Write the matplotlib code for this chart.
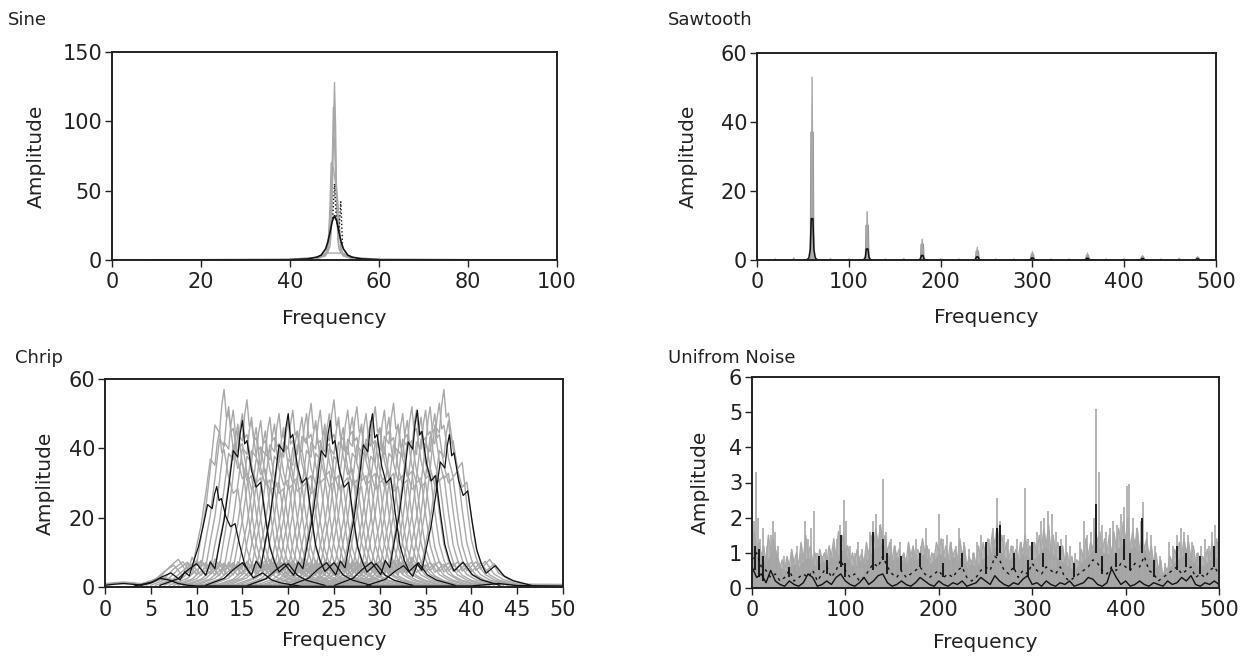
import matplotlib
matplotlib.use("Agg")
import matplotlib.pyplot as plt

plt.rcParams["font.family"] = ["DejaVu Sans"]

W, H = 1248, 658
GRAY = "#a8a8a8"
DARK_GRAY = "#909090"
BLACK = "#111111"

# ---------------- Sine ----------------
sine_gx = [46, 47, 48, 48.5, 49, 49.25, 49.5, 49.75, 50, 50.25, 50.5, 50.75, 51, 51.5, 52, 53, 54]
sine_gray = [
    [2, 3, 4, 6, 10, 20, 45, 90, 128, 95, 40, 15, 8, 5, 3, 2, 1],
    [2, 3, 5, 8, 15, 35, 70, 110, 100, 70, 42, 20, 10, 6, 4, 3, 2],
    [1, 2, 4, 10, 28, 50, 68, 85, 88, 60, 50, 42, 25, 8, 4, 2, 1],
    [1, 2, 3, 6, 40, 70, 70, 66, 60, 55, 45, 38, 30, 6, 3, 2, 1],
]
sine_floor_x = [40, 42, 44, 46, 47, 48, 52, 53, 54, 56, 58, 60]
sine_floor_y = [0.5, 1, 1.5, 2, 3, 5, 5, 3, 2, 1.5, 1, 0.5]
sine_bx = [0, 40, 44, 46, 47, 48, 48.5, 49, 49.5, 50, 50.5, 51, 51.5, 52, 53, 54, 56, 60, 100]
sine_black = [0, 0.3, 0.8, 2, 3.5, 8, 13, 20, 28, 32, 28, 20, 13, 8, 3.5, 2, 0.8, 0.3, 0]
sine_dot_x = [49.6, 50.0, 50.4, 51.0, 51.4, 51.8]
sine_dot_y = [30, 55, 30, 20, 42, 12]

# ---------------- Sawtooth ----------------
saw_freq = [60, 120, 180, 240, 300, 360, 420, 480]
saw_gray_peak = [53, 14, 6, 3.7, 2.4, 2.0, 1.3, 1.0]
saw_gray_band = [37, 10, 4.5, 2.5, 1.6, 1.2, 0.8, 0.6]
saw_black = [12, 3.2, 1.3, 0.9, 0.6, 0.5, 0.4, 0.3]
saw_minor_freq = [20, 40, 80, 100, 140, 160, 200, 220, 260, 280, 320, 340, 380, 400, 440, 460]
saw_minor_h = [0.3, 0.6, 0.4, 0.3, 0.3, 0.4, 0.3, 0.3, 0.3, 0.3, 0.3, 0.3, 0.3, 0.3, 0.3, 0.5]

# ---------------- Chirp ----------------
chirp_offsets = [-9, -7, -6, -5, -4, -3.5, -3, -2.5, -2, -1.5, -1, -0.5, -0.25, 0,
                 0.25, 0.5, 1, 1.5, 2, 2.5, 3, 3.5, 4, 5, 6, 7, 9]
chirp_shape = [0.01, 0.05, 0.1, 0.14, 0.07, 0.15, 0.11, 0.26, 0.4, 0.6, 0.82, 0.78, 0.92, 1.0,
               0.86, 0.88, 0.7, 0.6, 0.63, 0.42, 0.24, 0.15, 0.09, 0.14, 0.07, 0.04, 0.01]
chirp_gray_centers = [12.5, 13.0, 13.5, 14.0, 14.5, 15.0, 15.5, 16.0, 16.5, 17.0,
                      17.5, 18.0, 18.5, 19.0, 19.5, 20.0, 20.5, 21.0, 21.5, 22.0,
                      22.5, 23.0, 23.5, 24.0, 24.5, 25.0, 25.5, 26.0, 26.5, 27.0,
                      27.5, 28.0, 28.5, 29.0, 29.5, 30.0, 30.5, 31.0, 31.5, 32.0,
                      32.5, 33.0, 33.5, 34.0, 34.5, 35.0, 35.5, 36.0, 36.5, 37.0,
                      37.5]
chirp_gray_heights = [45, 57, 52, 51, 47, 50, 54, 49, 46, 48,
                      45, 49, 47, 50, 46, 48, 51, 45, 49, 50,
                      53, 48, 51, 47, 50, 54, 49, 46, 51, 49,
                      52, 47, 50, 48, 52, 46, 51, 49, 53, 47,
                      50, 48, 52, 51, 49, 51, 52, 50, 53, 57,
                      48]
chirp_black_centers = [12.2, 15.0, 20.0, 24.6, 29.2, 34.1, 37.6]
chirp_black_heights = [29, 48, 50, 48, 50, 51, 44]
chirp_low_x = [0, 1, 2, 3, 4, 5, 6, 7, 8, 9, 10, 15, 20, 30, 40, 43, 45, 50]
chirp_low_y = [0.5, 0.8, 1.0, 0.8, 0.5, 1.2, 2.5, 2.0, 1.0, 0.5, 0.3, 0.3, 0.2, 0.2, 0.3, 1.0, 0.4, 0.3]

# ---------------- Uniform noise ----------------
noise_x = list(range(0, 501, 5))
noise_gray_level = [
    1.2, 1.0, 0.9, 0.7, 1.0, 1.1, 0.6, 0.5, 0.6, 0.7,
    0.6, 0.8, 0.9, 0.7, 0.6, 0.8, 0.7, 0.9, 0.8, 1.1,
    1.0, 0.7, 0.6, 0.8, 0.7, 0.9, 1.1, 1.2, 1.3, 1.0,
    0.8, 0.9, 0.8, 0.7, 0.9, 0.8, 0.9, 1.0, 0.7, 0.8,
    1.0, 0.9, 0.8, 0.9, 0.8, 0.9, 0.6, 0.7, 0.6, 0.8,
    0.9, 1.0, 1.2, 1.1, 0.9, 0.8, 0.9, 0.8, 1.0, 0.9,
    0.8, 0.9, 1.1, 1.2, 1.0, 0.9, 0.8, 0.7, 0.6, 0.5,
    0.7, 0.8, 0.9, 1.1, 1.3, 1.0, 1.0, 0.9, 1.1, 1.2,
    1.3, 1.1, 1.2, 1.0, 1.1, 0.9, 0.7, 0.5, 0.3, 0.5,
    0.7, 0.8, 0.9, 1.0, 0.8, 0.7, 0.6, 0.7, 0.8, 0.9,
    0.8,
]
# gray peaks half way between the 5 Hz points above (2.5, 7.5, ... 497.5)
noise_gray_jag = [
    1.6, 1.3, 1.2, 1.5, 1.4, 0.9, 0.8, 0.9, 1.1, 1.0,
    1.3, 1.5, 1.2, 1.0, 1.1, 1.0, 1.2, 1.4, 1.6, 1.5,
    1.2, 1.0, 1.1, 1.0, 1.3, 1.5, 1.7, 1.8, 1.5, 1.3,
    1.2, 1.1, 1.0, 1.3, 1.2, 1.1, 1.4, 1.2, 1.0, 1.3,
    1.4, 1.2, 1.3, 1.1, 1.4, 1.2, 0.9, 1.0, 1.2, 1.3,
    1.4, 1.6, 1.8, 1.5, 1.3, 1.2, 1.1, 1.3, 1.5, 1.2,
    1.3, 1.5, 1.7, 1.8, 1.5, 1.3, 1.2, 1.0, 0.9, 0.8,
    1.1, 1.4, 1.3, 1.7, 1.6, 1.4, 1.5, 1.6, 1.7, 1.9,
    2.0, 1.6, 1.7, 1.5, 1.4, 1.2, 1.0, 0.8, 0.6, 0.9,
    1.1, 1.3, 1.4, 1.3, 1.2, 1.0, 0.9, 1.1, 1.3, 1.4,
]
noise_black_mid = [
    0.8, 1.0, 0.6, 0.5, 0.3, 0.4, 0.2, 0.3, 0.5, 0.2,
    0.3, 0.4, 0.3, 0.5, 0.2, 0.4, 0.6, 0.3, 0.5, 0.8,
    0.5, 0.3, 0.4, 0.2, 0.3, 0.5, 0.7, 0.6, 0.9, 0.6,
    0.4, 0.3, 0.5, 0.3, 0.4, 0.5, 0.6, 0.4, 0.3, 0.4,
    0.5, 0.3, 0.4, 0.3, 0.5, 0.6, 0.3, 0.2, 0.3, 0.5,
    0.6, 0.5, 0.9, 0.8, 0.5, 0.4, 0.6, 0.3, 0.5, 0.4,
    0.7, 0.5, 0.4, 0.6, 0.5, 0.4, 0.6, 0.3, 0.2, 0.3,
    0.4, 0.5, 0.6, 0.8, 0.7, 0.5, 0.4, 0.6, 0.5, 0.7,
    0.6, 0.5, 0.7, 0.6, 0.9, 0.5, 0.4, 0.2, 0.3, 0.4,
    0.5, 0.6, 0.4, 0.5, 0.6, 0.3, 0.4, 0.3, 0.5, 0.6,
    0.4,
]
noise_black_low = [
    0.6, 0.3, 0.4, 0.15, 0.5, 0.2, 0.1, 0.05, 0.2, 0.1,
    0.05, 0.15, 0.4, 0.3, 0.05, 0.1, 0.2, 0.1, 0.3, 0.4,
    0.2, 0.1, 0.05, 0.15, 0.3, 0.1, 0.2, 0.35, 0.4, 0.15,
    0.05, 0.1, 0.2, 0.1, 0.05, 0.15, 0.3, 0.2, 0.1, 0.05,
    0.2, 0.1, 0.05, 0.15, 0.1, 0.2, 0.05, 0.1, 0.15, 0.3,
    0.2, 0.1, 0.35, 0.2, 0.1, 0.05, 0.15, 0.1, 0.25, 0.35,
    0.1, 0.15, 0.05, 0.2, 0.1, 0.05, 0.15, 0.1, 0.2, 0.05,
    0.1, 0.15, 0.3, 0.25, 0.1, 0.05, 0.15, 0.55, 0.3, 0.1,
    0.2, 0.05, 0.1, 0.2, 0.1, 0.05, 0.15, 0.1, 0.05, 0.2,
    0.1, 0.15, 0.3, 0.2, 0.35, 0.1, 0.05, 0.15, 0.1, 0.2,
    0.1,
]
noise_gray_spikes = [
    (2, 1.9), (4, 3.3), (6, 2.0), (9, 1.4), (12, 1.7), (16, 1.2), (20, 1.5), (22, 1.9),
    (25, 1.6), (28, 1.2), (34, 0.9), (38, 0.8), (43, 1.0), (48, 1.2), (52, 1.0), (57, 1.9),
    (60, 1.4), (63, 1.7), (66, 2.2), (70, 1.0), (75, 0.9), (79, 1.1), (84, 1.0), (88, 1.2),
    (91, 1.4), (94, 1.8), (98, 2.5), (101, 1.9), (105, 1.2), (110, 1.0), (114, 1.3), (118, 1.1),
    (122, 1.0), (126, 1.6), (130, 1.9), (133, 2.1), (137, 1.8), (140, 3.1), (144, 1.6), (149, 1.4),
    (153, 1.2), (158, 1.3), (163, 1.0), (168, 1.2), (172, 1.1), (176, 1.4), (181, 1.2), (186, 1.7),
    (190, 1.1), (195, 1.0), (200, 2.1), (204, 1.4), (209, 1.5), (213, 1.3), (218, 1.2), (222, 1.7),
    (227, 1.3), (232, 1.1), (237, 1.0), (241, 1.3), (245, 1.5), (250, 1.2), (254, 1.4), (258, 1.7),
    (262, 2.55), (266, 1.9), (270, 1.5), (274, 1.4), (279, 1.2), (284, 1.4), (288, 1.3), (292, 2.85),
    (296, 1.4), (301, 1.3), (305, 1.6), (309, 1.9), (313, 2.0), (317, 2.2), (321, 2.1), (326, 1.6),
    (331, 1.4), (336, 1.5), (341, 1.2), (346, 1.0), (351, 1.3), (355, 1.9), (359, 1.5), (363, 1.6),
    (366, 2.0), (368, 5.1), (371, 3.3), (375, 1.8), (379, 1.6), (383, 1.7), (387, 1.9), (391, 1.8),
    (395, 2.1), (398, 2.3), (401, 2.9), (404, 2.95), (408, 2.0), (412, 1.7), (416, 1.9), (419, 2.45),
    (423, 1.6), (427, 1.5), (432, 1.2), (437, 0.9), (442, 0.7), (447, 1.3), (451, 1.2), (455, 1.5),
    (459, 1.7), (463, 1.6), (467, 1.5), (471, 1.3), (476, 1.0), (481, 1.2), (485, 1.4), (489, 1.2),
    (493, 1.6), (496, 1.8), (499, 1.3),
]
noise_black_marks = [
    (3, 0.5, 1.2), (7, 0.3, 1.1), (12, 0.2, 0.9), (40, 0.3, 0.6), (72, 0.5, 0.9), (80, 0.4, 0.8),
    (95, 0.6, 1.5), (100, 0.3, 0.7), (130, 0.5, 1.6), (140, 0.8, 1.4), (145, 0.4, 1.0),
    (160, 0.5, 0.9), (180, 0.6, 1.0), (205, 0.3, 0.7), (225, 0.6, 1.0), (250, 0.4, 1.3),
    (262, 0.9, 1.7), (265, 1.0, 1.8), (280, 0.5, 1.0), (295, 0.3, 0.8), (300, 0.8, 1.3),
    (312, 0.6, 1.0), (330, 0.8, 1.2), (345, 0.3, 0.7), (368, 1.0, 2.4), (375, 0.4, 0.9),
    (390, 0.6, 1.0), (398, 0.8, 1.4), (405, 0.5, 1.0), (418, 1.0, 2.0), (430, 0.3, 0.8),
    (455, 0.5, 1.2), (465, 0.6, 1.0), (480, 0.4, 0.9), (495, 0.6, 1.2),
]


def px_axes(fig, left, top, right, bottom):
    return fig.add_axes([left / W, 1 - bottom / H, (right - left) / W, (bottom - top) / H])


def style(ax, xlim, ylim, xticks, yticks, ylab_x, xlab_y):
    ax.set_xlim(*xlim)
    ax.set_ylim(*ylim)
    ax.set_xticks(xticks)
    ax.set_yticks(yticks)
    for s in ax.spines.values():
        s.set_linewidth(1.4)
        s.set_color("#222222")
        s.set_zorder(5)
    ax.tick_params(direction="out", length=5, width=1, labelsize=15,
                   colors="#222222", top=False, right=False)
    ax.tick_params(axis="x", pad=4)
    ax.tick_params(axis="y", pad=2)
    ax.set_ylabel("Amplitude", fontsize=14.5, color="#222222")
    ax.set_xlabel("Frequency", fontsize=14.5, color="#222222")
    ax.yaxis.set_label_coords(ylab_x, 0.5)
    ax.xaxis.set_label_coords(0.5, xlab_y)
    ax.xaxis.label.set_va("center")
    ax.yaxis.label.set_va("center")


def draw_peaks(ax, centers, heights, offsets, shape, **kw):
    for c, h in zip(centers, heights):
        ax.plot([c + o for o in offsets], [h * s for s in shape], **kw)


fig = plt.figure(figsize=(W / 100, H / 100), dpi=100)

# Sine
ax = px_axes(fig, 112, 52, 557, 260)
ax.plot(sine_floor_x, sine_floor_y, color=GRAY, lw=1)
for tr in sine_gray:
    ax.plot(sine_gx, tr, color=GRAY, lw=1)
ax.plot(sine_bx, sine_black, color=BLACK, lw=1.2)
ax.plot(sine_dot_x, sine_dot_y, color=BLACK, lw=1, ls=":")
style(ax, (0, 100), (0, 150), range(0, 101, 20), [0, 50, 100, 150], -0.169, -0.279)

# Sawtooth
ax = px_axes(fig, 757, 53, 1216, 260)
draw_peaks(ax, saw_minor_freq, saw_minor_h, [-1, 0, 1], [0, 1, 0], color=GRAY, lw=1)
draw_peaks(ax, saw_freq, saw_gray_band, [-1.5, -0.8, 0, 0.8, 1.5], [0, 1, 1, 1, 0],
           color=DARK_GRAY, lw=1.5)
draw_peaks(ax, saw_freq, saw_gray_peak, [-1.2, 0, 1.2], [0, 1, 0], color=GRAY, lw=1)
draw_peaks(ax, saw_freq, saw_black, [-6, -3.5, -2, -0.9, 0, 0.9, 2, 3.5, 6],
           [0, 0.05, 0.25, 1, 1, 1, 0.25, 0.05, 0], color=BLACK, lw=1.1)
style(ax, (0, 500), (0, 60), range(0, 501, 100), [0, 20, 40, 60], -0.150, -0.279)

# Chirp
ax = px_axes(fig, 105, 379, 563, 587)
ax.plot(chirp_low_x, [v + 0.4 for v in chirp_low_y], color=GRAY, lw=1.2)
draw_peaks(ax, chirp_gray_centers, chirp_gray_heights, chirp_offsets, chirp_shape,
           color=GRAY, lw=1)
draw_peaks(ax, chirp_black_centers, chirp_black_heights, chirp_offsets, chirp_shape,
           color=BLACK, lw=0.9)
ax.plot(chirp_low_x, chirp_low_y, color=BLACK, lw=1)
style(ax, (0, 50), (0, 60), range(0, 51, 5), [0, 20, 40, 60], -0.131, -0.258)

# Uniform noise
ax = px_axes(fig, 752, 377, 1219, 588)
jag_x = [x + 2.5 for x in noise_x[:-1]]
pts = sorted(list(zip(noise_x, noise_gray_level)) + list(zip(jag_x, noise_gray_jag)))
zx, zy = zip(*pts)
ax.fill_between(zx, 0, zy, color="#b8b8b8", lw=0)
ax.plot(zx, zy, color=GRAY, lw=1)
sf, sh = zip(*noise_gray_spikes)
ax.vlines(sf, 0, sh, color=GRAY, lw=1.2)
ax.fill_between(noise_x, 0, noise_gray_level, color="#a4a4a4", lw=0)
bf, blo, bhi = zip(*noise_black_marks)
ax.vlines(bf, blo, bhi, color=BLACK, lw=1.3)
ax.plot(noise_x, noise_black_mid, color=BLACK, lw=1, ls=(0, (2, 3)))
ax.plot(noise_x, noise_black_low, color=BLACK, lw=1)
style(ax, (0, 500), (0, 6), range(0, 501, 100), range(0, 7), -0.111, -0.256)

# panel titles
for x, y, t in [(8, 20, "Sine"), (668, 20, "Sawtooth"),
                (15, 358, "Chrip"), (668, 358, "Unifrom Noise")]:
    fig.text(x / W, 1 - y / H, t, fontsize=13, color="#222222", ha="left", va="center")

fig.savefig("out.png", dpi=100)
